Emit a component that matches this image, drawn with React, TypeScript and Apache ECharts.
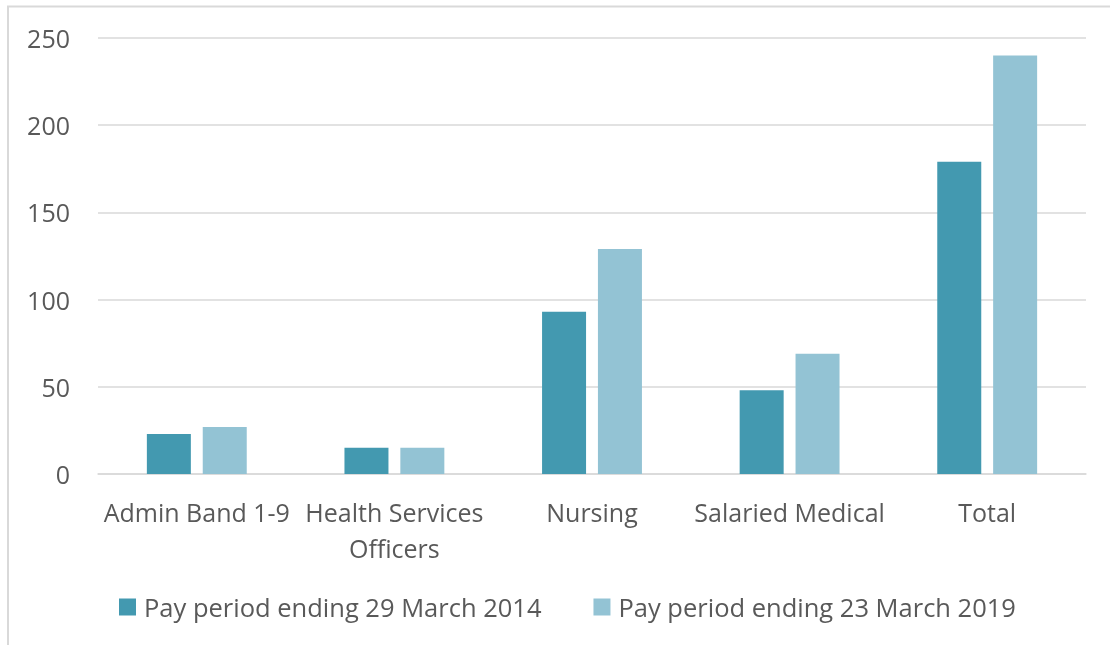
import React, { useEffect, useRef } from "react";
import * as echarts from "echarts";

const categories = ["Admin Band 1-9", "Health Services\nOfficers", "Nursing", "Salaried Medical", "Total"];
const series2014 = [23, 15, 93, 48, 179];
const series2019 = [27, 15, 129, 69, 240];
const seriesNames = ["Pay period ending 29 March 2014", "Pay period ending 23 March 2019"];

const FONT = "Open Sans";
const TXT = "#595959";

export default function App() {
  const ref = useRef<HTMLDivElement>(null);
  useEffect(() => {
    const chart = echarts.init(ref.current!, undefined, { renderer: "svg" });
    chart.setOption({
      animation: false,
      textStyle: { fontFamily: FONT },
      graphic: [
        {
          type: "rect",
          shape: { x: 8, y: 6.5, width: 1200, height: 700 },
          style: { fill: "none", stroke: "#d9d9d9", lineWidth: 2 },
          silent: true,
        },
      ],
      grid: { left: 98, right: 24, top: 38, bottom: 171, containLabel: false },
      xAxis: {
        type: "category",
        data: categories,
        axisLine: { lineStyle: { color: "#d9d9d9", width: 1.5 } },
        axisTick: { show: false },
        axisLabel: { color: TXT, fontSize: 25, fontFamily: FONT, margin: 20, lineHeight: 36, interval: 0 },
      },
      yAxis: {
        type: "value",
        min: 0,
        max: 250,
        interval: 50,
        axisLine: { show: false },
        axisTick: { show: false },
        splitLine: { lineStyle: { color: "#d9d9d9", width: 1.5 } },
        axisLabel: { color: TXT, fontSize: 25, fontFamily: FONT, margin: 28 },
      },
      legend: {
        bottom: 20,
        left: 114,
        itemWidth: 17,
        itemHeight: 17,
        itemGap: 52,
        icon: "rect",
        textStyle: { color: TXT, fontSize: 25.5, fontFamily: FONT, padding: [0, 0, 0, 3] },
        data: seriesNames,
      },
      series: [
        {
          type: "bar",
          name: seriesNames[0],
          data: series2014,
          barWidth: 44,
          barGap: "27%",
          itemStyle: { color: "#4399b0" },
        },
        {
          type: "bar",
          name: seriesNames[1],
          data: series2019,
          barWidth: 44,
          itemStyle: { color: "#93c3d4" },
        },
      ],
    });
    return () => chart.dispose();
  }, []);
  return <div ref={ref} style={{ position: "fixed", left: 0, top: 0, width: 1110, height: 645 }} />;
}
